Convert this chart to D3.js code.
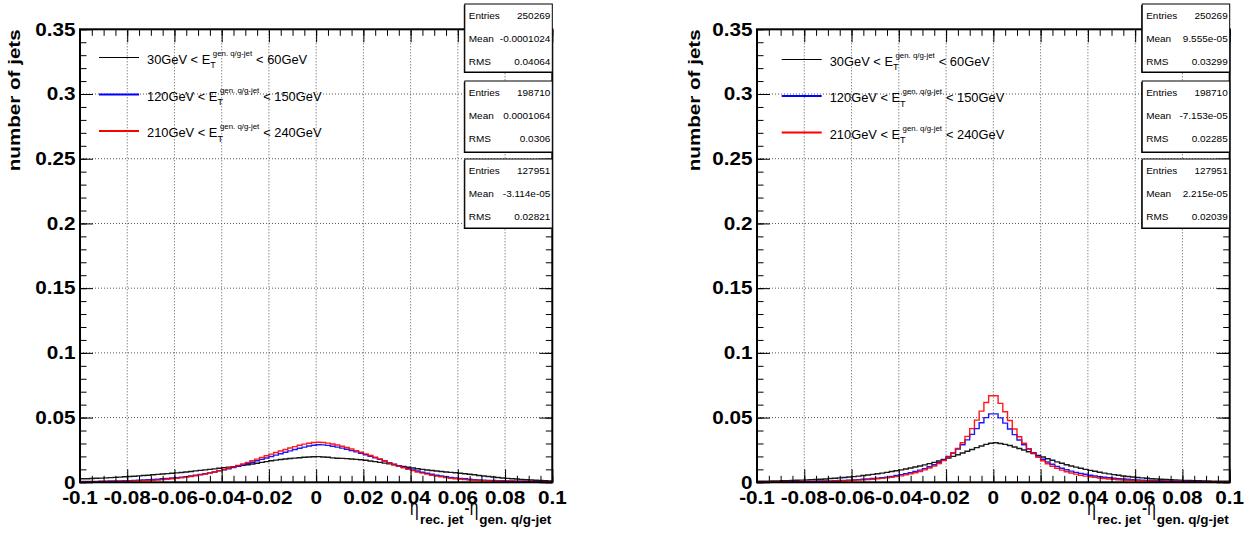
<!DOCTYPE html>
<html><head><meta charset="utf-8">
<script src="https://cdn.jsdelivr.net/npm/d3@7"></script>
<style>html,body{margin:0;padding:0;background:#fff;} svg{display:block;}</style>
</head><body>
<svg id="c" width="1251" height="533"></svg>
<script>
// ---------------- data ----------------
const nBins = 100, xMin = -0.1, xMax = 0.1, yMax = 0.35;
const xTickValues = [-0.1,-0.08,-0.06,-0.04,-0.02,0,0.02,0.04,0.06,0.08,0.1];
const xTickLabels = ["-0.1","-0.08","-0.06","-0.04","-0.02","0","0.02","0.04","0.06","0.08","0.1"];
const yTickValues = [0,0.05,0.1,0.15,0.2,0.25,0.3,0.35];
const yTickLabels = ["0","0.05","0.1","0.15","0.2","0.25","0.3","0.35"];
const legendLow = ["30GeV","120GeV","210GeV"];
const legendHigh = ["60GeV","150GeV","240GeV"];
const legendSup = "gen. q/g-jet";
const seriesColors = ["#000000","#0000ff","#ff0000"];
const yTitle = "number of jets";

const leftBlack = [
0.0027,0.0028,0.0029,0.0031,0.0032,0.0034,0.0036,0.0038,0.0040,0.0043,
0.0045,0.0047,0.0050,0.0052,0.0055,0.0058,0.0061,0.0064,0.0067,0.0070,
0.0073,0.0076,0.0080,0.0084,0.0088,0.0092,0.0096,0.0100,0.0104,0.0108,
0.0112,0.0117,0.0121,0.0126,0.0131,0.0136,0.0141,0.0147,0.0154,0.0160,
0.0166,0.0171,0.0176,0.0180,0.0184,0.0187,0.0190,0.0193,0.0195,0.0197,
0.0198,0.0196,0.0193,0.0189,0.0186,0.0185,0.0183,0.0180,0.0177,0.0174,
0.0170,0.0165,0.0160,0.0154,0.0148,0.0142,0.0135,0.0128,0.0122,0.0116,
0.0110,0.0105,0.0100,0.0095,0.0091,0.0087,0.0083,0.0080,0.0077,0.0074,
0.0070,0.0066,0.0062,0.0058,0.0053,0.0049,0.0045,0.0041,0.0037,0.0033,
0.0030,0.0027,0.0025,0.0022,0.0020,0.0018,0.0016,0.0014,0.0013,0.0011];
const leftBlue = [
0.0006,0.0006,0.0007,0.0007,0.0008,0.0009,0.0010,0.0010,0.0011,0.0012,
0.0013,0.0015,0.0016,0.0018,0.0020,0.0022,0.0024,0.0027,0.0030,0.0033,
0.0036,0.0040,0.0044,0.0049,0.0054,0.0060,0.0066,0.0073,0.0080,0.0088,
0.0096,0.0105,0.0114,0.0124,0.0134,0.0144,0.0155,0.0166,0.0177,0.0188,
0.0199,0.0210,0.0221,0.0232,0.0243,0.0253,0.0263,0.0272,0.0280,0.0286,
0.0290,0.0289,0.0285,0.0279,0.0272,0.0264,0.0255,0.0245,0.0235,0.0224,
0.0213,0.0201,0.0189,0.0177,0.0165,0.0152,0.0140,0.0128,0.0117,0.0106,
0.0096,0.0087,0.0078,0.0070,0.0062,0.0055,0.0049,0.0043,0.0038,0.0034,
0.0030,0.0027,0.0024,0.0021,0.0019,0.0017,0.0015,0.0014,0.0013,0.0012,
0.0011,0.0010,0.0009,0.0008,0.0008,0.0007,0.0007,0.0006,0.0006,0.0005];
const leftRed = [
0.0004,0.0004,0.0005,0.0005,0.0006,0.0006,0.0007,0.0007,0.0008,0.0009,
0.0010,0.0011,0.0012,0.0013,0.0014,0.0016,0.0018,0.0021,0.0024,0.0027,
0.0031,0.0035,0.0040,0.0045,0.0051,0.0057,0.0064,0.0072,0.0080,0.0089,
0.0098,0.0108,0.0119,0.0130,0.0142,0.0154,0.0166,0.0179,0.0192,0.0205,
0.0218,0.0230,0.0242,0.0254,0.0265,0.0276,0.0286,0.0295,0.0302,0.0307,
0.0310,0.0308,0.0303,0.0296,0.0288,0.0279,0.0269,0.0257,0.0245,0.0232,
0.0220,0.0207,0.0193,0.0180,0.0166,0.0152,0.0138,0.0125,0.0112,0.0100,
0.0090,0.0080,0.0071,0.0063,0.0055,0.0048,0.0042,0.0036,0.0031,0.0027,
0.0024,0.0021,0.0018,0.0016,0.0014,0.0013,0.0012,0.0011,0.0010,0.0009,
0.0008,0.0008,0.0007,0.0007,0.0006,0.0006,0.0005,0.0005,0.0005,0.0004];

const rightBlack = [
0.0008,0.0009,0.0009,0.0010,0.0011,0.0012,0.0013,0.0014,0.0016,0.0017,
0.0019,0.0021,0.0022,0.0024,0.0026,0.0029,0.0031,0.0034,0.0037,0.0041,
0.0044,0.0048,0.0052,0.0056,0.0061,0.0066,0.0071,0.0077,0.0083,0.0089,
0.0096,0.0103,0.0110,0.0118,0.0126,0.0135,0.0144,0.0154,0.0165,0.0176,
0.0188,0.0200,0.0213,0.0226,0.0240,0.0254,0.0268,0.0281,0.0293,0.0302,
0.0305,0.0300,0.0293,0.0284,0.0273,0.0261,0.0249,0.0236,0.0222,0.0208,
0.0195,0.0182,0.0170,0.0158,0.0147,0.0136,0.0126,0.0117,0.0108,0.0100,
0.0092,0.0085,0.0078,0.0071,0.0065,0.0059,0.0054,0.0049,0.0045,0.0041,
0.0037,0.0034,0.0031,0.0028,0.0026,0.0024,0.0022,0.0020,0.0018,0.0017,
0.0015,0.0014,0.0013,0.0012,0.0011,0.0010,0.0009,0.0009,0.0008,0.0008];
const rightBlue = [
0.0004,0.0004,0.0004,0.0005,0.0005,0.0005,0.0006,0.0006,0.0007,0.0007,
0.0008,0.0008,0.0009,0.0010,0.0010,0.0011,0.0012,0.0014,0.0015,0.0017,
0.0019,0.0021,0.0023,0.0026,0.0029,0.0032,0.0036,0.0040,0.0046,0.0053,
0.0059,0.0066,0.0074,0.0083,0.0094,0.0106,0.0120,0.0136,0.0154,0.0175,
0.0199,0.0226,0.0256,0.0290,0.0328,0.0370,0.0415,0.0460,0.0500,0.0529,
0.0529,0.0498,0.0457,0.0412,0.0368,0.0327,0.0290,0.0257,0.0228,0.0202,
0.0178,0.0157,0.0139,0.0123,0.0109,0.0097,0.0086,0.0077,0.0069,0.0062,
0.0055,0.0049,0.0044,0.0039,0.0035,0.0031,0.0028,0.0025,0.0023,0.0020,
0.0019,0.0017,0.0015,0.0014,0.0013,0.0012,0.0011,0.0010,0.0009,0.0009,
0.0008,0.0007,0.0007,0.0006,0.0006,0.0005,0.0005,0.0005,0.0004,0.0004];
const rightRed = [
0.0003,0.0003,0.0003,0.0004,0.0004,0.0004,0.0005,0.0005,0.0005,0.0006,
0.0006,0.0006,0.0007,0.0007,0.0008,0.0009,0.0010,0.0011,0.0012,0.0014,
0.0016,0.0017,0.0019,0.0021,0.0024,0.0027,0.0030,0.0034,0.0039,0.0044,
0.0050,0.0057,0.0065,0.0074,0.0084,0.0096,0.0110,0.0126,0.0145,0.0168,
0.0195,0.0226,0.0262,0.0305,0.0355,0.0415,0.0480,0.0550,0.0617,0.0669,
0.0669,0.0610,0.0545,0.0478,0.0412,0.0352,0.0302,0.0260,0.0224,0.0193,
0.0166,0.0143,0.0124,0.0108,0.0094,0.0082,0.0072,0.0063,0.0055,0.0048,
0.0043,0.0038,0.0033,0.0029,0.0026,0.0023,0.0020,0.0018,0.0016,0.0015,
0.0013,0.0012,0.0011,0.0010,0.0009,0.0008,0.0008,0.0007,0.0007,0.0006,
0.0006,0.0005,0.0005,0.0005,0.0004,0.0004,0.0004,0.0003,0.0003,0.0003];

const statLabels = ["Entries","Mean","RMS"];
const leftStats = [["250269","-0.0001024","0.04064"],["198710","0.0001064","0.0306"],["127951","-3.114e-05","0.02821"]];
const rightStats = [["250269","9.555e-05","0.03299"],["198710","-7.153e-05","0.02285"],["127951","2.215e-05","0.02039"]];

// ---------------- drawing ----------------
const FONT = "'Liberation Sans', Arial, Helvetica, sans-serif";
const svg = d3.select("#c");

function stext(parent, x, y, str, o) {
  const g = parent.append("g").attr("transform", `translate(${x},${y}) scale(${o.sx||1},1)`);
  return g.append("text").attr("x",0).attr("y",0)
    .attr("font-family", FONT).attr("font-size", o.size)
    .attr("font-weight", o.weight||"normal").attr("text-anchor", o.anchor||"start")
    .attr("fill", o.fill||"#000").text(str);
}
function piece(g, cx, p) {
  const sx = p.sx||1, dx = p.dx||0;
  const sg = g.append("g").attr("transform", `translate(${cx+dx},${p.dy||0}) scale(${sx},1)`);
  const t = sg.append("text").attr("font-family", p.family||FONT).attr("font-size", p.size)
    .attr("font-weight", p.weight||"normal").text(p.text);
  return t.node().getComputedTextLength()*sx + dx;
}
function rich(parent, x, y, pieces, anchor) {
  const g = parent.append("g");
  let cur = 0;
  pieces.forEach(p => {
    if (p.stack) {
      let w = 0;
      p.stack.forEach(q => { w = Math.max(w, piece(g, cur, q)); });
      cur += w + (p.gap||0);
    } else {
      cur += piece(g, cur, p) + (p.gap||0);
    }
  });
  const off = anchor === "end" ? -cur : 0;
  g.attr("transform", `translate(${x+off},${y})`);
}

const panels = [
  {x0:80, x1:552.3, series:[leftBlack,leftBlue,leftRed], stats:leftStats, legX:99, legY:[57.5,94.5,131], titleX:20},
  {x0:757, x1:1229.7, series:[rightBlack,rightBlue,rightRed], stats:rightStats, legX:781.7, legY:[59.5,96,132.5], titleX:700}
];
const yTop = 29.3, yBot = 482.3;
const binEdges = d3.range(nBins+1).map(i => xMin + i*(xMax-xMin)/nBins);
const xMinor = d3.range(0, 41).map(i => xMin + i*0.005);
const yMinor = d3.range(0, 36).map(i => i*0.01);

panels.forEach(P => {
  const x = d3.scaleLinear().domain([xMin,xMax]).range([P.x0,P.x1]);
  const y = d3.scaleLinear().domain([0,yMax]).range([yBot,yTop]);
  const g = svg.append("g");

  // grid
  g.append("g").selectAll("line").data(xTickValues.slice(1,-1)).join("line")
    .attr("x1", d=>x(d)).attr("x2", d=>x(d)).attr("y1", yBot).attr("y2", yTop)
    .attr("stroke","#555").attr("stroke-width",1).attr("stroke-dasharray","1,2");
  g.append("g").selectAll("line").data(yTickValues.slice(1,-1)).join("line")
    .attr("y1", d=>y(d)).attr("y2", d=>y(d)).attr("x1", P.x0).attr("x2", P.x1)
    .attr("stroke","#555").attr("stroke-width",1).attr("stroke-dasharray","1,2");

  // histograms
  const line = d3.line().curve(d3.curveStepAfter).x(d=>x(d[0])).y(d=>y(d[1]));
  P.series.forEach((vals, k) => {
    const pts = vals.map((v,i)=>[binEdges[i], v]);
    pts.push([binEdges[nBins], vals[nBins-1]]);
    g.append("path").datum(pts).attr("d", line).attr("fill","none")
      .attr("stroke", seriesColors[k]).attr("stroke-width", 1.4).attr("stroke-opacity",0.9);
  });

  // axes ticks (inside, all four sides)
  const axB = d3.axisBottom(x).tickValues(xTickValues).tickSize(-13).tickFormat("");
  const axBm = d3.axisBottom(x).tickValues(xMinor).tickSize(-6.5).tickFormat("");
  const axT = d3.axisTop(x).tickValues(xTickValues).tickSize(-13).tickFormat("");
  const axTm = d3.axisTop(x).tickValues(xMinor).tickSize(-6.5).tickFormat("");
  const axL = d3.axisLeft(y).tickValues(yTickValues).tickSize(-13).tickFormat("");
  const axLm = d3.axisLeft(y).tickValues(yMinor).tickSize(-6.5).tickFormat("");
  const axR = d3.axisRight(y).tickValues(yTickValues).tickSize(-13).tickFormat("");
  const axRm = d3.axisRight(y).tickValues(yMinor).tickSize(-6.5).tickFormat("");
  [[axB,`translate(0,${yBot})`],[axBm,`translate(0,${yBot})`],[axT,`translate(0,${yTop})`],[axTm,`translate(0,${yTop})`],
   [axL,`translate(${P.x0},0)`],[axLm,`translate(${P.x0},0)`],[axR,`translate(${P.x1},0)`],[axRm,`translate(${P.x1},0)`]]
   .forEach(([ax,tr]) => {
     const a = g.append("g").attr("transform", tr).call(ax);
     a.select(".domain").remove();
     a.selectAll(".tick line").attr("stroke","#000").attr("stroke-width",1);
   });
  // frame
  g.append("rect").attr("x",P.x0).attr("y",yTop).attr("width",P.x1-P.x0).attr("height",yBot-yTop)
    .attr("fill","none").attr("stroke","#000").attr("stroke-width",2);

  // tick labels
  xTickValues.forEach((v,i) => stext(g, x(v), 504, xTickLabels[i], {size:18, weight:"bold", anchor:"middle", sx:1.15}));
  yTickValues.forEach((v,i) => stext(g, P.x0-4.5, y(v)+6.3, yTickLabels[i], {size:18, weight:"bold", anchor:"end", sx:1.15}));

  // y title
  const tg = g.append("g").attr("transform", `translate(${P.titleX},${yTop}) rotate(-90) scale(1.25,1)`);
  tg.append("text").attr("font-family",FONT).attr("font-size",16.5).attr("font-weight","bold")
    .attr("text-anchor","end").text(yTitle);

  // x title
  rich(g, P.x1 - 1, 515, [
    {text:"η", size:22, sx:0.7},
    {text:"rec. jet", size:12.5, weight:"bold", sx:1.08, dy:9, dx:1.5},
    {text:"-", size:15, weight:"bold", sx:1.0, dy:-2.5, dx:1},
    {text:"η", size:22, sx:0.7, dx:0.3},
    {text:"gen. q/g-jet", size:12.5, weight:"bold", sx:1.08, dy:9, dx:1}
  ], "end");

  // legend
  legendLow.forEach((lo, k) => {
    const ly = P.legY[k];
    g.append("line").attr("x1",P.legX).attr("x2",P.legX+40).attr("y1",ly).attr("y2",ly)
      .attr("stroke", seriesColors[k]).attr("stroke-width", k===0?1.2:1.8);
    rich(g, P.legX+48, ly+6, [
      {text:`${lo} < E`, size:12.5, sx:1.03},
      {stack:[{text:"T", size:9, dy:4.5, sx:1.0}, {text:legendSup, size:7.5, dy:-8, dx:2.5, sx:1.05}], gap:4},
      {text:`< ${legendHigh[k]}`, size:12.5, sx:1.03}
    ]);
  });

  // stat boxes
  const boxTop = [4, 81, 159], boxH = [68, 71, 69];
  const bx0 = P.x1 - 87.5, bx1 = P.x1;
  P.stats.forEach((st, b) => {
    const bg = g.append("g");
    bg.append("rect").attr("x",bx0-1).attr("y",boxTop[b]+1).attr("width",bx1-bx0).attr("height",boxH[b])
      .attr("fill","#000");
    bg.append("rect").attr("x",bx0).attr("y",boxTop[b]).attr("width",bx1-bx0).attr("height",boxH[b])
      .attr("fill","#fff").attr("stroke","#000").attr("stroke-width",1);
    [11.7, 35, 57.7].forEach((off, r) => {
      const ty = boxTop[b] + off + 3.4;
      stext(bg, bx0+4, ty, statLabels[r], {size:9.5, sx:1.05});
      stext(bg, bx1-2, ty, st[r], {size:9.5, sx:1.05, anchor:"end"});
    });
  });
});
</script>
</body></html>
